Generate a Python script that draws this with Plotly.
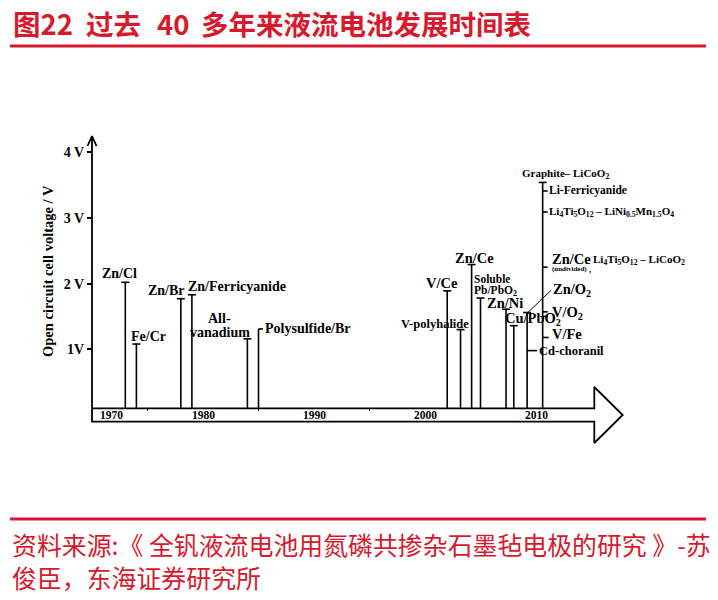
import plotly.graph_objects as go

# ---------------- data ----------------
systems = ["Zn/Cl", "Fe/Cr", "Zn/Br", "Zn/Ferricyanide", "All-vanadium", "Polysulfide/Br",
           "V/Ce", "V-polyhalide", "Zn/Ce", "Soluble Pb/PbO2", "Zn/Ni", "Cu/PbO2",
           "Zn/O2", "Graphite-LiCoO2"]
years = [1973, 1974, 1978, 1979, 1984, 1985, 2002, 2003.2, 2004.2, 2005, 2007.3, 2008,
         2009.2, 2010.6]
voltages = [2.02, 1.08, 1.77, 1.83, 1.16, 1.31, 1.89, 1.30, 2.29, 1.78, 1.61, 1.36,
            1.56, 3.54]

side_systems = ["Li-Ferricyanide", "Li4Ti5O12-LiNi0.5Mn1.5O4", "Zn/Ce (undivided)",
                "V/O2", "V/O2 (2)", "V/Fe", "Cd-choranil"]
side_years = [2010.6, 2010.6, 2010.6, 2010.6, 2010.6, 2010.6, 2009.2]
side_voltages = [3.41, 3.09, 2.25, 1.57, 1.50, 1.18, 0.98]

voltage_ticks = [1, 2, 3, 4]
voltage_tick_labels = ["1V", "2 V", "3 V", "4 V"]
decade_years = [1970, 1980, 1990, 2000, 2010]
decade_labels = ["1970", "1980", "1990", "2000", "2010"]
minor_years = [1975, 1985, 1995]

title_parts = ["图22", "过去", "40", "多年来液流电池发展时间表"]
source_lines = ["资料来源:《 全钒液流电池用氮磷共掺杂石墨毡电极的研究 》-苏",
                "俊臣，东海证券研究所"]

# ---------------- geometry / style ----------------
# The page body has an 8px margin, so the figure is 702x584 and all
# reference pixel positions are shifted by OFF.
OFF = 8
W, H = 718 - 2 * OFF, 600 - 2 * OFF
X_PX0, X_PPY = 92.0 - OFF, 11.1     # pixel of year 1970, pixels per year
Y_PX0, Y_PPV = 415.0 - OFF, 65.7    # pixel of 0 V, pixels per volt
YEAR0 = 1970
SERIF = "Liberation Serif, Times New Roman, serif"
CJK = "Noto Sans CJK SC, sans-serif"
RED = "#d7192d"


def dx(px):
    return px / X_PPY


def dy(px):
    return px / Y_PPV


def px_x(p):      # reference pixel x -> paper
    return (p - OFF) / W


def px_y(p):      # reference pixel y -> paper
    return 1 - (p - OFF) / H


x_range = [YEAR0 - X_PX0 / X_PPY, YEAR0 + (W - X_PX0) / X_PPY]
y_range = [-(H - Y_PX0) / Y_PPV, Y_PX0 / Y_PPV]
BASE_V = dy(6.7)

label_style = {
    "Zn/Cl": dict(lines=["Zn/Cl"], size=14, anchor="center", dx=-6, dy=9),
    "Fe/Cr": dict(lines=["Fe/Cr"], size=14, anchor="center", dx=12, dy=7.3),
    "Zn/Br": dict(lines=["Zn/Br"], size=14, anchor="center", dx=-14.7, dy=8.7),
    "Zn/Ferricyanide": dict(lines=["Zn/Ferricyanide"], size=14, anchor="left", dx=-5, dy=8),
    "All-vanadium": dict(lines=["All-", "vanadium"], size=14, anchor="center", dx=-27.5,
                         dy=20.4, gap=14),
    "Polysulfide/Br": dict(lines=["Polysulfide/Br"], size=14, anchor="left", dx=5, dy=0,
                           cap="right"),
    "V/Ce": dict(lines=["V/Ce"], size=14.5, anchor="center", dx=-5, dy=7.7),
    "V-polyhalide": dict(lines=["V-polyhalide"], size=12.5, anchor="center", dx=-25.3, dy=6),
    "Zn/Ce": dict(lines=["Zn/Ce"], size=14.5, anchor="center", dx=2.7, dy=6.4),
    "Soluble Pb/PbO2": dict(lines=["Soluble", "Pb/PbO<sub>2</sub>"], size=11.5,
                            anchor="left", dx=-7.5, dy=19, gap=11.7),
    "Zn/Ni": dict(lines=["Zn/Ni"], size=14.5, anchor="center", dx=-1.3, dy=6.3),
    "Cu/PbO2": dict(lines=["Cu/PbO<sub>2</sub>"], size=14.5, anchor="left", dx=-9.5, dy=6.4),
    "Zn/O2": dict(lines=["Zn/O<sub>2</sub>"], size=14.5, anchor="left", dx=24.5, dy=22.3,
                  pointer=True),
    "Graphite-LiCoO2": dict(lines=["Graphite– LiCoO<sub>2</sub>"], size=11, anchor="center",
                            dx=23, dy=8.4),
}

side_style = {
    "Li-Ferricyanide": dict(text="Li-Ferricyanide", size=11.5, dx=5, dy=0, tick=5),
    "Li4Ti5O12-LiNi0.5Mn1.5O4": dict(
        text="Li<sub>4</sub>Ti<sub>5</sub>O<sub>12</sub> – LiNi<sub>0.5</sub>Mn<sub>1.5</sub>O<sub>4</sub>",
        size=11, dx=5, dy=0, tick=5),
    "Zn/Ce (undivided)": dict(text="Zn/Ce", size=14.5, dx=8, dy=8.3, tick=5),
    "V/O2": dict(text="V/O<sub>2</sub>", size=14.5, dx=8, dy=-1.5, tick=5),
    "V/O2 (2)": dict(text="", size=10, dx=8, dy=0, tick=5),
    "V/Fe": dict(text="V/Fe", size=14.5, dx=8, dy=3.3, tick=6),
    "Cd-choranil": dict(text="Cd-choranil", size=12.5, dx=10.5, dy=0, tick=10),
}


def ann(x, y, text, size, xanchor="center", xshift=0, yshift=0, bold=True,
        family=SERIF, color="black", textangle=0, xref="x", yref="y"):
    return dict(x=x, y=y, xref=xref, yref=yref, text=text, showarrow=False,
                xanchor=xanchor, yanchor="middle", xshift=xshift, yshift=yshift,
                textangle=textangle, borderpad=0,
                font=dict(family=family, size=size, color=color,
                          weight="bold" if bold else "normal"))


annotations = []
stem_x, stem_y = [], []
thin_x, thin_y = [], []

# stems with caps and labels
for name, yr, v in zip(systems, years, voltages):
    st = label_style[name]
    stem_x += [yr, yr, None]
    stem_y += [BASE_V, v, None]
    if st.get("cap", "both") == "both":
        stem_x += [yr - dx(4), yr + dx(4), None]
    else:
        stem_x += [yr, yr + dx(4.5), None]
    stem_y += [v, v, None]
    gap = st.get("gap", 14)
    for i, line in enumerate(st["lines"]):
        annotations.append(ann(yr + dx(st["dx"]), v + dy(st["dy"] - i * gap),
                               line, st["size"], xanchor=st["anchor"]))
    if st.get("pointer"):
        thin_x += [yr - dx(1), yr + dx(st["dx"] - 0.5), None]
        thin_y += [v - dy(1.7), v + dy(st["dy"]), None]

# side ticks on the 2009 / 2010 stems
for name, yr, v in zip(side_systems, side_years, side_voltages):
    st = side_style[name]
    stem_x += [yr, yr + dx(st["tick"]), None]
    stem_y += [v, v, None]
    if st["text"]:
        annotations.append(ann(yr + dx(st["dx"]), v + dy(st["dy"]), st["text"],
                               st["size"], xanchor="left"))
    if name == "Zn/Ce (undivided)":
        annotations.append(ann(yr + dx(8), v - dy(1.7), "(undivided)", 7, xanchor="left"))
        annotations.append(ann(yr + dx(45), v - dy(2), ",", 9, xanchor="left"))
        annotations.append(ann(yr + dx(49.5), v + dy(7.3),
                               "Li<sub>4</sub>Ti<sub>5</sub>O<sub>12</sub> – LiCoO<sub>2</sub>",
                               11, xanchor="left"))

# timeline arrow (body centred on 0 V)
body_end = YEAR0 + dx(594.3 - 92)
tip = YEAR0 + dx(622.7 - 92)
bh, hh = dy(6.7), dy(28)
arrow_x = [YEAR0, body_end, body_end, tip, body_end, body_end, YEAR0, YEAR0]
arrow_y = [bh, bh, hh, 0, -hh, -bh, -bh, bh]

# minor ticks on the timeline
for yr in minor_years:
    thin_x += [yr, yr, None]
    thin_y += [bh, bh - dy(2.5), None]

# vertical axis line with open arrowhead
axis_top = dy(415 - 136)
wing = dy(415 - 146)
axis_x = [YEAR0, YEAR0, None, YEAR0 - dx(4.5), YEAR0, YEAR0 + dx(4.5)]
axis_y = [BASE_V, axis_top, None, wing, axis_top, wing]

fig = go.Figure()
fig.add_trace(go.Scatter(x=stem_x, y=stem_y, mode="lines", line=dict(color="black", width=1.6),
                         hoverinfo="skip", showlegend=False, cliponaxis=False))
fig.add_trace(go.Scatter(x=thin_x, y=thin_y, mode="lines", line=dict(color="black", width=1),
                         hoverinfo="skip", showlegend=False, cliponaxis=False))
fig.add_trace(go.Scatter(x=arrow_x, y=arrow_y, mode="lines", line=dict(color="black", width=1.8),
                         hoverinfo="skip", showlegend=False, cliponaxis=False))
fig.add_trace(go.Scatter(x=axis_x, y=axis_y, mode="lines", line=dict(color="black", width=1.8),
                         hoverinfo="skip", showlegend=False, cliponaxis=False))

# decade labels inside the timeline
for yr, lab in zip(decade_years, decade_labels):
    annotations.append(ann(yr, 0, lab, 11.5, xshift=19.7 if yr == YEAR0 else 0))

# axis title
annotations.append(ann(px_x(48), px_y(271), "Open circuit cell voltage / V", 14.5,
                       textangle=-90, xref="paper", yref="paper"))

# chart title (red)
for txt, px in zip(title_parts, [12, 85, 156, 200]):
    annotations.append(ann(px_x(px), px_y(23), txt, 27.5, xanchor="left", family=CJK,
                           color=RED, xref="paper", yref="paper"))

# source text
for txt, py in zip(source_lines, [544, 577]):
    annotations.append(ann(px_x(11), px_y(py), txt, 24.9, xanchor="left", bold=False,
                           family=CJK, color=RED, xref="paper", yref="paper"))

shapes = [
    dict(type="line", xref="paper", yref="paper", x0=px_x(10), x1=px_x(706),
         y0=px_y(46), y1=px_y(46), line=dict(color=RED, width=3)),
    dict(type="line", xref="paper", yref="paper", x0=px_x(10), x1=px_x(706),
         y0=px_y(519), y1=px_y(519), line=dict(color=RED, width=3)),
]

fig.update_layout(
    width=W, height=H,
    margin=dict(l=0, r=0, t=0, b=0),
    paper_bgcolor="white", plot_bgcolor="white",
    annotations=annotations, shapes=shapes,
    xaxis=dict(range=x_range, visible=False, fixedrange=True),
    yaxis=dict(range=y_range, anchor="free", position=X_PX0 / W, side="left",
               showgrid=False, zeroline=False, showline=False,
               tickvals=voltage_ticks, ticktext=voltage_tick_labels,
               ticks="outside", ticklen=5, tickwidth=1.5, tickcolor="black",
               tickfont=dict(family=SERIF, size=14, color="black", weight="bold"),
               automargin=False, fixedrange=True),
)

fig.write_html("out.html")
